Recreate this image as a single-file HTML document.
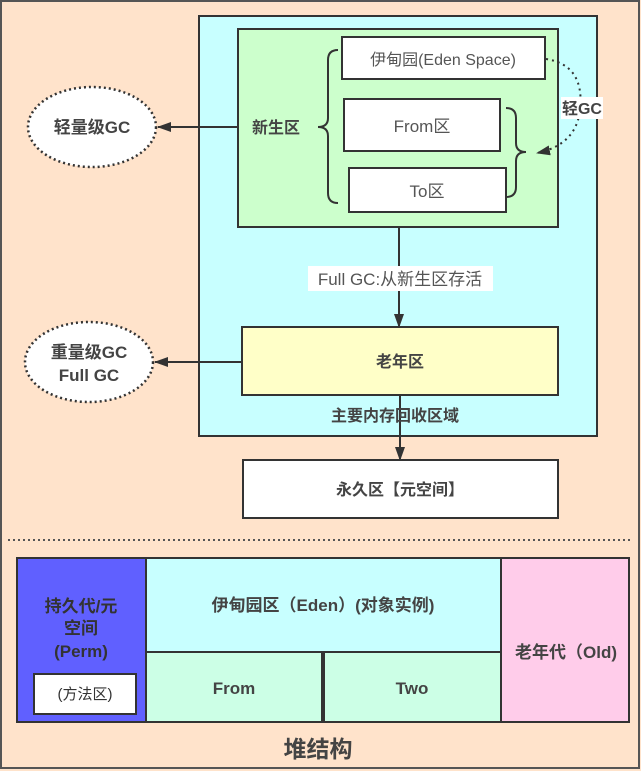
<!DOCTYPE html>
<html><head><meta charset="utf-8"><style>
html,body{margin:0;padding:0;background:#ffe3cb;}
svg{display:block;font-family:"Liberation Sans","Noto Sans CJK SC",sans-serif;}
</style></head><body>
<svg width="641" height="771" viewBox="0 0 641 771" xmlns="http://www.w3.org/2000/svg">
<defs>
<marker id="ah" markerWidth="10" markerHeight="10" refX="9" refY="5" orient="auto" markerUnits="userSpaceOnUse">
<path d="M0,0 L10,5 L0,10 Z" fill="#333"/></marker>
<marker id="ah2" markerWidth="14" markerHeight="10" refX="13" refY="5" orient="auto" markerUnits="userSpaceOnUse">
<path d="M0,0 L14,5 L0,10 Z" fill="#333"/></marker>
</defs>
<rect x="0" y="0" width="641" height="771" fill="#ffe3cb"/>
<rect x="1" y="1" width="638" height="767" fill="none" stroke="#555" stroke-width="2"/>
<rect x="199" y="16" width="398" height="420" fill="#c8ffff" stroke="#333" stroke-width="2"/>
<rect x="238" y="29" width="320" height="198" fill="#ccffcc" stroke="#333" stroke-width="2"/>
<rect x="342" y="37" width="203" height="42" fill="#fff" stroke="#333" stroke-width="2"/>
<text x="443" y="65" font-size="16" fill="#555" text-anchor="middle">伊甸园(Eden Space)</text>
<rect x="344" y="99" width="156" height="52" fill="#fff" stroke="#333" stroke-width="2"/>
<text x="422" y="132" font-size="17" fill="#555" text-anchor="middle">From区</text>
<rect x="349" y="168" width="157" height="44" fill="#fff" stroke="#333" stroke-width="2"/>
<text x="427" y="197" font-size="17" fill="#555" text-anchor="middle">To区</text>
<text x="276" y="133" font-size="16" font-weight="bold" fill="#444" text-anchor="middle">新生区</text>
<path d="M338,50 Q328,50 328,60 L328,118 Q328,127 318,127 Q328,127 328,136 L328,193 Q328,203 338,203" fill="none" stroke="#333" stroke-width="2"/>
<path d="M506,108 Q516,108 516,118 L516,143 Q516,152 526,152 Q516,152 516,161 L516,187 Q516,197 506,197" fill="none" stroke="#333" stroke-width="2"/>
<path d="M546,59 Q585,65 580,110 Q576,145 537,153" fill="none" stroke="#333" stroke-width="2" stroke-dasharray="2,4" marker-end="url(#ah2)"/>
<rect x="561" y="97" width="42" height="22" fill="#fff"/>
<text x="582" y="114" font-size="16" font-weight="bold" fill="#444" text-anchor="middle">轻GC</text>
<ellipse cx="92" cy="127" rx="64" ry="40" fill="#fff" stroke="#333" stroke-width="2.5" stroke-dasharray="2,3"/>
<text x="92" y="133" font-size="17" font-weight="bold" fill="#444" text-anchor="middle">轻量级GC</text>
<line x1="238" y1="127" x2="158" y2="127" stroke="#333" stroke-width="2" marker-end="url(#ah2)"/>
<ellipse cx="89" cy="362" rx="64" ry="40" fill="#fff" stroke="#333" stroke-width="2.5" stroke-dasharray="2,3"/>
<text x="89" y="358" font-size="17" font-weight="bold" fill="#444" text-anchor="middle">重量级GC</text>
<text x="89" y="381" font-size="17" font-weight="bold" fill="#444" text-anchor="middle">Full GC</text>
<line x1="242" y1="362" x2="155" y2="362" stroke="#333" stroke-width="2" marker-end="url(#ah2)"/>
<line x1="399" y1="227" x2="399" y2="327" stroke="#333" stroke-width="2" marker-end="url(#ah2)"/>
<rect x="308" y="266" width="185" height="25" fill="#fff"/>
<text x="400" y="285" font-size="17" fill="#555" text-anchor="middle">Full GC:从新生区存活</text>
<rect x="242" y="327" width="316" height="68" fill="#ffffc8" stroke="#333" stroke-width="2"/>
<text x="400" y="367" font-size="16" font-weight="bold" fill="#444" text-anchor="middle">老年区</text>
<line x1="400" y1="395" x2="400" y2="460" stroke="#333" stroke-width="2" marker-end="url(#ah2)"/>
<text x="395" y="421" font-size="16" font-weight="bold" fill="#444" text-anchor="middle">主要内存回收区域</text>
<rect x="243" y="460" width="315" height="58" fill="#fff" stroke="#333" stroke-width="2"/>
<text x="400" y="495" font-size="16" font-weight="bold" fill="#444" text-anchor="middle">永久区【元空间】</text>
<line x1="8" y1="540" x2="633" y2="540" stroke="#555" stroke-width="2" stroke-dasharray="2,3"/>
<rect x="17" y="558" width="129" height="164" fill="#6060ff" stroke="#333" stroke-width="2"/>
<text x="81" y="612" font-size="17" font-weight="bold" fill="#333" text-anchor="middle">持久代/元</text>
<text x="81" y="634" font-size="17" font-weight="bold" fill="#333" text-anchor="middle">空间</text>
<text x="81" y="657" font-size="17" font-weight="bold" fill="#333" text-anchor="middle">(Perm)</text>
<rect x="34" y="674" width="102" height="40" fill="#fff" stroke="#333" stroke-width="2"/>
<text x="85" y="699" font-size="15" fill="#333" text-anchor="middle">(方法区)</text>
<rect x="146" y="558" width="355" height="94" fill="#c8ffff" stroke="#333" stroke-width="2"/>
<text x="323" y="611" font-size="17" font-weight="bold" fill="#444" text-anchor="middle">伊甸园区（Eden）(对象实例)</text>
<rect x="146" y="652" width="176" height="70" fill="#ccffe6" stroke="#333" stroke-width="2"/>
<text x="234" y="694" font-size="17" font-weight="bold" fill="#444" text-anchor="middle">From</text>
<rect x="324" y="652" width="177" height="70" fill="#ccffe6" stroke="#333" stroke-width="2"/>
<text x="412" y="694" font-size="17" font-weight="bold" fill="#444" text-anchor="middle">Two</text>
<rect x="501" y="558" width="128" height="164" fill="#ffccea" stroke="#333" stroke-width="2"/>
<text x="566" y="658" font-size="17" font-weight="bold" fill="#444" text-anchor="middle">老年代（Old)</text>
<text x="318" y="757" font-size="23" font-weight="bold" fill="#444" text-anchor="middle">堆结构</text>
</svg>
</body></html>
